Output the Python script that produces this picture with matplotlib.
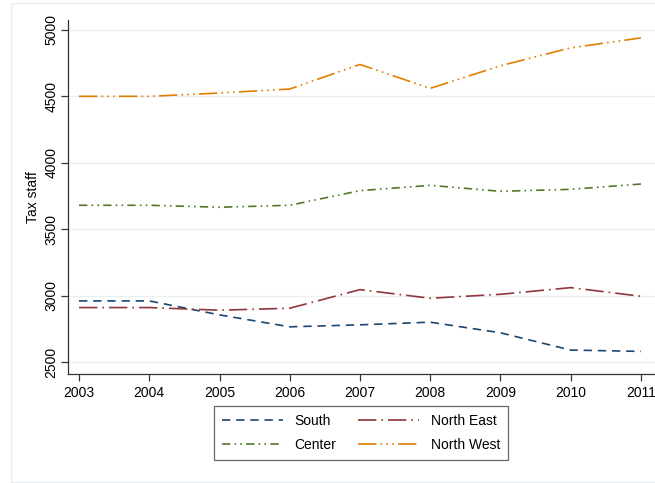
import matplotlib.pyplot as plt
from matplotlib.patches import Rectangle

years = [2003, 2004, 2005, 2006, 2007, 2008, 2009, 2010, 2011]
south = [2960, 2960, 2855, 2765, 2780, 2800, 2720, 2590, 2580]
north_east = [2910, 2910, 2890, 2905, 3045, 2980, 3010, 3060, 2995]
center = [3680, 3680, 3665, 3680, 3790, 3830, 3785, 3800, 3840]
north_west = [4500, 4500, 4525, 4555, 4740, 4560, 4730, 4865, 4940]
yticks = [2500, 3000, 3500, 4000, 4500, 5000]

plt.rcParams['font.family'] = ['Liberation Sans', 'DejaVu Sans']

fig = plt.figure(figsize=(6.55, 4.83), dpi=100)
# light outer frame of the graph region
fig.patches.append(Rectangle((11 / 655, 1 / 483), 1.0, 479 / 483, transform=fig.transFigure,
                             fill=False, edgecolor='#e6eef0', linewidth=1.0))

ax = fig.add_axes([0.1038, 0.2257, 0.8962, 0.733])
ax.plot(years, south, color='#1a476f', lw=1.2, dashes=(5, 3.5), label='South')
ax.plot(years, north_east, color='#90353b', lw=1.2, dashes=(11, 3, 1, 3), label='North East')
ax.plot(years, center, color='#55752f', lw=1.2, dashes=(5, 2.5, 1, 2.5, 1, 2.5), label='Center')
ax.plot(years, north_west, color='#e37e00', lw=1.2,
        dashes=(11, 2.5, 1, 2.5, 1, 2.5, 1, 2.5), label='North West')

ax.set_xlim(2002.843, 2011.2)
ax.set_ylim(2410, 5075)
ax.set_xticks(years)
ax.set_yticks(yticks)
ax.set_yticklabels([str(v) for v in yticks], rotation=90, va='center')
ax.tick_params(labelsize=10, length=5, color='#333333', width=0.9)
ax.tick_params(axis='y', pad=2)
ax.grid(axis='y', color='#e8f0f2', lw=1.0)
ax.set_axisbelow(True)
for s in ('top', 'right'):
    ax.spines[s].set_visible(False)
for s in ('left', 'bottom'):
    ax.spines[s].set_color('#333333')
    ax.spines[s].set_linewidth(0.9)
ax.set_ylabel('Tax staff', fontsize=10, labelpad=3)

handles, labels = ax.get_legend_handles_labels()
order = [0, 2, 1, 3]
leg = fig.legend([handles[i] for i in order], [labels[i] for i in order], ncol=2,
                 loc='center', bbox_to_anchor=(361 / 655, 1 - 433 / 483),
                 fontsize=10, handlelength=4.4, columnspacing=1.6, handletextpad=0.8,
                 frameon=True, fancybox=False, edgecolor='#444444', borderpad=0.55,
                 borderaxespad=0, labelspacing=0.75)
leg.get_frame().set_linewidth(0.9)

fig.savefig('out.png', dpi=100)
